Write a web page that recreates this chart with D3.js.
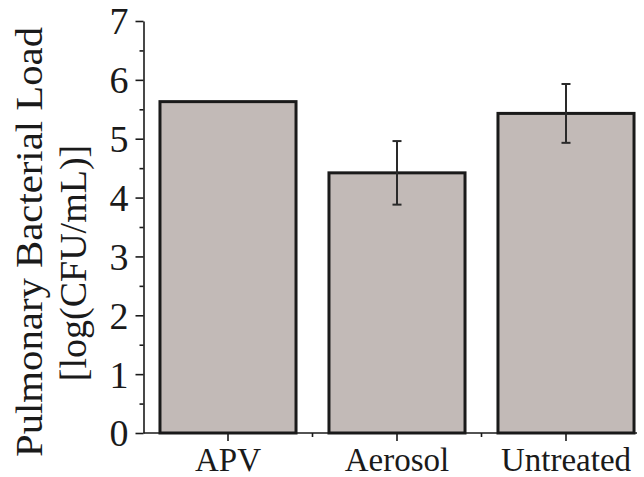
<!DOCTYPE html>
<html>
<head>
<meta charset="utf-8">
<script src="https://cdn.jsdelivr.net/npm/d3@7"></script>
<style>
  body { margin: 0; background: #fff; }
  svg { display: block; }
  text { font-family: "Liberation Serif", "Times New Roman", serif; fill: #1a1a1a; }
  .axis path, .axis line { stroke: #1a1a1a; stroke-width: 1.6px; }
</style>
</head>
<body>
<div id="chart"></div>
<script>
"use strict";

// data
var categories = ["APV", "Aerosol", "Untreated"];
var loadValues = [5.63, 4.42, 5.43];
var errLow = [5.63, 3.88, 4.93];
var errHigh = [5.63, 4.96, 5.93];
var yTicks = [0, 1, 2, 3, 4, 5, 6, 7];
var yTitle = ["Pulmonary Bacterial Load", "[log(CFU/mL)]"];

var width = 644, height = 477;

var svg = d3.select("#chart")
    .append("svg")
    .attr("width", width)
    .attr("height", height);

var x = d3.scaleBand()
    .domain(categories)
    .range([143.5, 650.5])
    .paddingInner(0.195)
    .paddingOuter(0.0975);

var y = d3.scaleLinear()
    .domain([0, 7])
    .range([433, 21]);

var step = x.step();

// bars
svg.selectAll("rect.bar")
    .data(categories)
    .enter()
    .append("rect")
    .attr("class", "bar")
    .attr("x", function(d) { return x(d); })
    .attr("y", function(d, i) { return y(loadValues[i]); })
    .attr("width", x.bandwidth())
    .attr("height", function(d, i) { return y(0) - y(loadValues[i]); })
    .attr("fill", "#c2bab7")
    .attr("stroke", "#1a1a1a")
    .attr("stroke-width", 3);

// error bars
var eb = svg.selectAll("g.err")
    .data(categories)
    .enter()
    .append("g")
    .attr("class", "err")
    .attr("stroke", "#2a2a2a")
    .attr("stroke-width", 2);

eb.append("line")
    .attr("x1", function(d) { return x(d) + x.bandwidth() / 2; })
    .attr("x2", function(d) { return x(d) + x.bandwidth() / 2; })
    .attr("y1", function(d, i) { return y(errLow[i]); })
    .attr("y2", function(d, i) { return y(errHigh[i]); });

[errLow, errHigh].forEach(function(arr) {
  eb.append("line")
      .attr("x1", function(d) { return x(d) + x.bandwidth() / 2 - 4.5; })
      .attr("x2", function(d) { return x(d) + x.bandwidth() / 2 + 4.5; })
      .attr("y1", function(d, i) { return y(arr[i]); })
      .attr("y2", function(d, i) { return y(arr[i]); })
      .attr("stroke-opacity", function(d, i) { return errHigh[i] > errLow[i] ? 1 : 0; });
});

// y axis
var yAxis = svg.append("g")
    .attr("class", "axis")
    .attr("transform", "translate(143.5,0)")
    .call(d3.axisLeft(y).tickValues(yTicks).tickFormat(d3.format("d"))
      .tickSize(8).tickSizeOuter(0).tickPadding(7));
yAxis.selectAll("text")
    .style("font-size", "38px")
    .attr("dy", "0.34em");

var minorY = yTicks.slice(0, -1).map(function(v) { return v + 0.5; });
svg.append("g")
    .attr("class", "axis")
    .attr("transform", "translate(143.5,0)")
    .call(d3.axisLeft(y).tickValues(minorY).tickSize(4).tickFormat(""))
    .select(".domain").remove();

// x axis
var xAxis = svg.append("g")
    .attr("class", "axis")
    .attr("transform", "translate(0,433)")
    .call(d3.axisBottom(x).tickSize(8).tickSizeOuter(0).tickPadding(7));
xAxis.select(".domain").remove();
xAxis.append("line")
    .attr("x1", 143.5)
    .attr("x2", 637)
    .attr("y1", 0)
    .attr("y2", 0);
xAxis.selectAll("text")
    .style("font-size", "33px")
    .attr("dy", "0.71em");

var minorX = categories.slice(1).map(function(d) { return x(d) - step * x.paddingInner() / 2; });
xAxis.selectAll("line.minor")
    .data(minorX)
    .enter()
    .append("line")
    .attr("class", "minor")
    .attr("x1", function(d) { return d; })
    .attr("x2", function(d) { return d; })
    .attr("y1", 0)
    .attr("y2", 4);

// y title
svg.append("text")
    .attr("transform", "translate(42,242) rotate(-90)")
    .attr("text-anchor", "middle")
    .attr("textLength", 430)
    .attr("lengthAdjust", "spacingAndGlyphs")
    .style("font-size", "38px")
    .text(yTitle[0]);
svg.append("text")
    .attr("transform", "translate(86,263) rotate(-90)")
    .attr("text-anchor", "middle")
    .style("font-size", "38px")
    .text(yTitle[1]);
</script>
</body>
</html>
